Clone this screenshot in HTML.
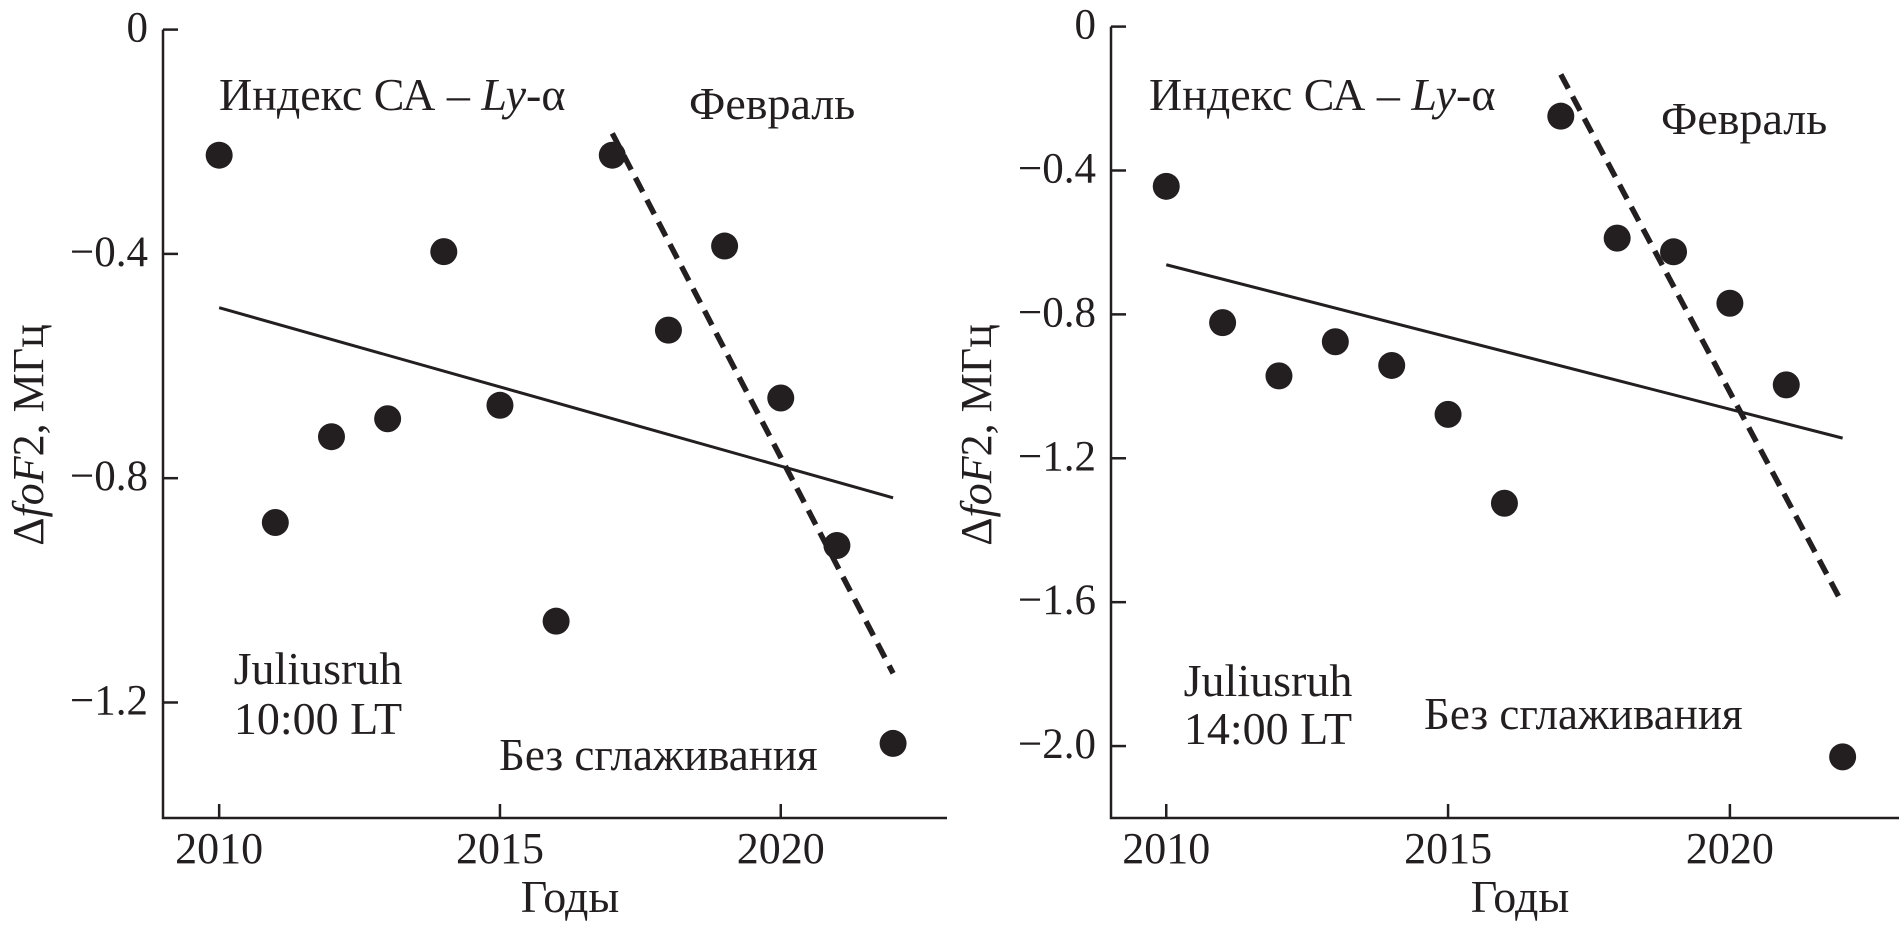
<!DOCTYPE html>
<html><head><meta charset="utf-8"><style>
html,body{margin:0;padding:0;background:#fff;}
svg{display:block;}
text{font-family:"Liberation Serif","DejaVu Serif",serif;fill:#231f20;}
</style></head>
<body>
<svg id="chart" width="1904" height="928" viewBox="0 0 1904 928" xmlns="http://www.w3.org/2000/svg"></svg>
<script>
// ---- data ----
const years = [2010,2011,2012,2013,2014,2015,2016,2017,2018,2019,2020,2021,2022];
const valuesLeft = [-0.224,-0.879,-0.726,-0.694,-0.396,-0.670,-1.055,-0.224,-0.536,-0.386,-0.657,-0.920,-1.273];
const valuesRight = [-0.444,-0.823,-0.971,-0.876,-0.942,-1.078,-1.325,-0.249,-0.588,-0.626,-0.769,-0.996,-2.030];
const trendLeftYears = [2010,2022];
const trendLeftVals = [-0.496,-0.835];
const trendRightYears = [2010,2022];
const trendRightVals = [-0.662,-1.144];
const dashLeftYears = [2017,2022];
const dashLeftVals = [-0.185,-1.148];
const dashRightYears = [2017,2022];
const dashRightVals = [-0.133,-1.605];
const xTicks = [2010,2015,2020];
const xTickLabels = ['2010','2015','2020'];
const yTicksLeft = [0,-0.4,-0.8,-1.2];
const yTickLabelsLeft = ['0','\u22120.4','\u22120.8','\u22121.2'];
const yTicksRight = [0,-0.4,-0.8,-1.2,-1.6,-2.0];
const yTickLabelsRight = ['0','\u22120.4','\u22120.8','\u22121.2','\u22121.6','\u22122.0'];

const NS='http://www.w3.org/2000/svg';
const svg=document.getElementById('chart');
const FS=46;
const TS=43;
function mk(tag,attrs,parent){const e=document.createElementNS(NS,tag);for(const k in attrs)e.setAttribute(k,attrs[k]);(parent||svg).appendChild(e);return e;}
function txt(g,x,y,str,anchor,size,name){
  const t=mk('text',{x:x,y:y,'text-anchor':anchor||'start','font-size':size||FS},g);
  t.textContent=str;
  
  
  return t;
}

function panel(p){
  const g=mk('g',{});
  
  
  const X=v=>p.x0+(v-p.xa)/(p.xb-p.xa)*(p.x1-p.x0);
  const Y=v=>p.y0+(v-p.ya)/(p.yb-p.ya)*(p.y1-p.y0);
  const ax=mk('path',{d:`M${p.x0},${p.y0} L${p.x0},${p.y1} L${p.x1},${p.y1}`,fill:'none',stroke:'#231f20','stroke-width':2.5},g);
  
  
  xTicks.forEach((v,i)=>{
    const tk=mk('line',{x1:X(v),x2:X(v),y1:p.y1,y2:p.y1-14,stroke:'#231f20','stroke-width':2.5},g);
    
    
    txt(g,X(v),863,xTickLabels[i],'middle',TS+1,'x-tick-label');
  });
  p.yt.forEach((v,i)=>{
    const tk=mk('line',{x1:p.x0,x2:p.x0+15,y1:Y(v),y2:Y(v),stroke:'#231f20','stroke-width':2.5},g);
    
    
    txt(g,p.x0-15,Y(v)+12,p.yl[i],'end',TS,'y-tick-label');
  });
  txt(g,(p.x0+p.x1)/2+15,912,'Годы','middle',FS,'x-axis-title');
  const yt=mk('text',{transform:`translate(${p.x0-120},435) rotate(-90)`,'text-anchor':'middle','font-size':44},g);
  
  
  yt.innerHTML='Δ<tspan font-style="italic">foF</tspan>2, МГц';
  const tl=mk('line',{x1:X(p.tY[0]),y1:Y(p.tV[0]),x2:X(p.tY[1]),y2:Y(p.tV[1]),stroke:'#231f20','stroke-width':3},g);
  
  
  const dl=mk('line',{x1:X(p.dY[0]),y1:Y(p.dV[0]),x2:X(p.dY[1]),y2:Y(p.dV[1]),stroke:'#231f20','stroke-width':5.5,'stroke-dasharray':'16 9'},g);
  
  
  years.forEach((yr,i)=>{
    const c=mk('circle',{cx:X(yr),cy:Y(p.vals[i]),r:13.5,fill:'#231f20'},g);
    
    
  });
  const a=mk('text',{x:p.a1[0],y:p.a1[1],'font-size':FS},g);
  
  
  a.innerHTML='Индекс СА – <tspan font-style="italic">Ly</tspan>-α';
  txt(g,p.a2[0],p.a2[1],'Февраль','start',FS,'month-label');
  txt(g,p.a3[0],p.a3[1],'Juliusruh','middle',FS,'station-label');
  txt(g,p.a3[0],p.a3[2],p.time,'middle',FS,'time-label');
  txt(g,p.a4[0],p.a4[1],'Без сглаживания','start',45,'smoothing-label');
}

panel({name:'panel-10lt',x0:163,x1:947,xa:2009.0,xb:2022.96,y0:29.6,y1:818,ya:0,yb:-1.406,
  yt:yTicksLeft,yl:yTickLabelsLeft,vals:valuesLeft,tY:trendLeftYears,tV:trendLeftVals,dY:dashLeftYears,dV:dashLeftVals,
  a1:[219,110],a2:[689,119],a3:[318,684,734],a4:[499,770],time:'10:00 LT'});
panel({name:'panel-14lt',x0:1111,x1:1899,xa:2009.02,xb:2023.0,y0:26.6,y1:818,ya:0,yb:-2.2,
  yt:yTicksRight,yl:yTickLabelsRight,vals:valuesRight,tY:trendRightYears,tV:trendRightVals,dY:dashRightYears,dV:dashRightVals,
  a1:[1149,110],a2:[1661,134],a3:[1268,696,744],a4:[1424,729],time:'14:00 LT'});
</script>
</body></html>
